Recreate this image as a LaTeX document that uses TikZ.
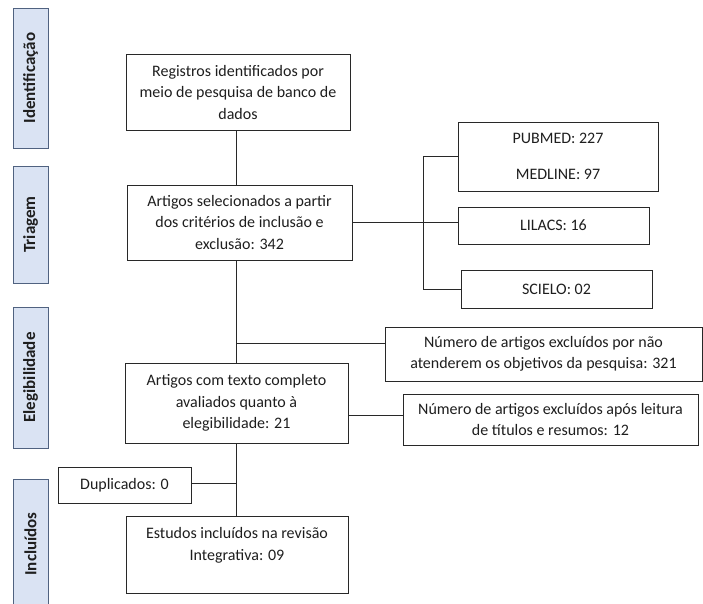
\documentclass[tikz,border=0pt]{standalone}
\usepackage{fontspec}
\setmainfont{Carlito}
\definecolor{sidefill}{RGB}{218,227,243}
\definecolor{sidedraw}{RGB}{80,98,128}
\definecolor{txt}{RGB}{30,30,30}
\definecolor{ln}{RGB}{40,40,40}
\begin{document}
\begin{tikzpicture}[x=1pt,y=-1pt,
  box/.style={draw=ln,line width=0.9pt,rectangle,inner sep=0pt,align=center,text=txt,
    font=\fontsize{16}{21.5}\selectfont},
  side/.style={draw=sidedraw,fill=sidefill,line width=0.9pt,rectangle,inner sep=0pt,
    minimum width=35pt,text=txt,font=\fontsize{17}{19}\selectfont\bfseries},
  conn/.style={draw=ln,line width=0.9pt}]
\useasboundingbox (0,0) rectangle (703,603);
\clip (0,0) rectangle (703,603);
% side labels
\node[side,minimum height=140pt] (sid) at (30.5,78) {\rotatebox{90}{Identificação}};
\node[side,minimum height=117pt] (stri) at (30.5,224.5) {\rotatebox{90}{Triagem}};
\node[side,minimum height=141pt] (sele) at (30.5,377.5) {\rotatebox{90}{Elegibilidade}};
\node[side,minimum height=130pt] (sinc) at (30.5,544) {\rotatebox{90}{Incluídos}};
% main boxes
\node[box,minimum width=224pt,minimum height=76pt] (reg) at (238,92)
  {Registros identificados por\\meio de pesquisa de banco de\\dados};
\node[box,minimum width=225pt,minimum height=75pt] (art) at (239.5,222.5)
  {Artigos selecionados a partir\\dos critérios de inclusão e\\exclusão: 342};
\node[box,minimum width=200pt,minimum height=69pt] (pub) at (558,156.5)
  {PUBMED: 227\\[15pt]MEDLINE: 97};
\node[box,minimum width=191pt,minimum height=37pt] (lil) at (553.5,225.5) {LILACS: 16};
\node[box,minimum width=191pt,minimum height=38pt] (sci) at (556.5,289) {SCIELO: 02};
\node[box,minimum width=317pt,minimum height=54pt] (ex1) at (543.5,354)
  {Número de artigos excluídos por não\\atenderem os objetivos da pesquisa: 321};
\node[box,minimum width=223pt,minimum height=80pt] (art2) at (236.5,403)
  {Artigos com texto completo\\avaliados quanto à\\elegibilidade: 21};
\node[box,minimum width=295pt,minimum height=51pt] (ex2) at (550.5,419.5)
  {Número de artigos excluídos após leitura\\de títulos e resumos: 12};
\node[box,minimum width=133pt,minimum height=36pt] (dup) at (124.5,485) {Duplicados: 0};
\node[box,minimum width=222pt,minimum height=77pt] (inc) at (237,554.5)
  {Estudos incluídos na revisão\\Integrativa: 09\\\mbox{}};
% helper coordinates
\coordinate (tr) at (236.5,0);
\coordinate (brk) at (423,0);
\coordinate (l1) at (0,343);
\coordinate (l2) at (0,415);
\coordinate (l3) at (0,483);
% connectors
\draw[conn] (reg.south -| tr) -- (art.north -| tr);
\draw[conn] (art.south -| tr) -- (art2.north -| tr);
\draw[conn] (tr |- l1) -- (ex1.west |- l1);
\draw[conn] (art.east) -- (art.east -| lil.west);
\draw[conn] (pub.west) -| (brk |- sci.west) -- (sci.west);
\draw[conn] (art2.east |- l2) -- (ex2.west |- l2);
\draw[conn] (art2.south -| tr) -- (inc.north -| tr);
\draw[conn] (dup.east |- l3) -- (tr |- l3);
\end{tikzpicture}
\end{document}
